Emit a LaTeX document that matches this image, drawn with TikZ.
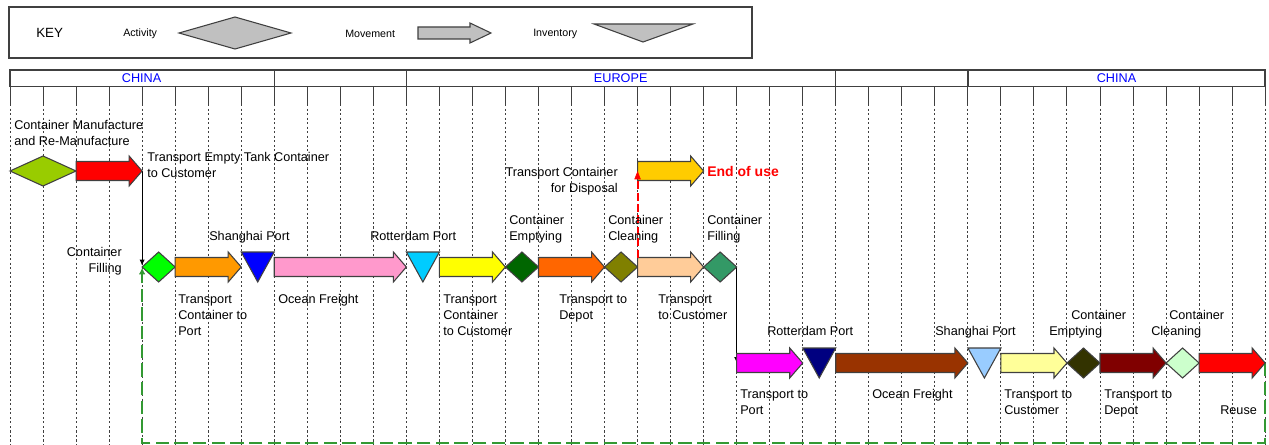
\documentclass[tikz,border=0pt]{standalone}
\usepackage{fontspec}
\setmainfont{Liberation Sans}
\usetikzlibrary{arrows.meta}
\definecolor{lnc}{HTML}{404040}
\definecolor{keyfill}{HTML}{C0C0C0}
\definecolor{cLime}{HTML}{99CC00}
\definecolor{cRed}{HTML}{FF0000}
\definecolor{cGreen}{HTML}{00FF00}
\definecolor{cOrange}{HTML}{FF9900}
\definecolor{cBlue}{HTML}{0000FF}
\definecolor{cPink}{HTML}{FF99CC}
\definecolor{cCyan}{HTML}{00CCFF}
\definecolor{cYellow}{HTML}{FFFF00}
\definecolor{cDkGreen}{HTML}{006600}
\definecolor{cOrRed}{HTML}{FF6600}
\definecolor{cOlive}{HTML}{808000}
\definecolor{cPeach}{HTML}{FFCC99}
\definecolor{cSea}{HTML}{339966}
\definecolor{cGold}{HTML}{FFCC00}
\definecolor{cMagenta}{HTML}{FF00FF}
\definecolor{cNavy}{HTML}{000080}
\definecolor{cBrown}{HTML}{993300}
\definecolor{cLtBlue}{HTML}{99CCFF}
\definecolor{cLtYellow}{HTML}{FFFF99}
\definecolor{cDkOlive}{HTML}{333300}
\definecolor{cMaroon}{HTML}{800000}
\definecolor{cLtGreen}{HTML}{CCFFCC}
\definecolor{cDash}{HTML}{339933}
\def\cw{33.03}
\newcommand{\mvarrow}[4]{%
  \filldraw[shapeline,fill=#4] ({10+#1*\cw},{#3-9.5}) -- ({10+#2*\cw-13},{#3-9.5}) -- ({10+#2*\cw-13},{#3-15}) -- ({10+#2*\cw},#3) -- ({10+#2*\cw-13},{#3+15}) -- ({10+#2*\cw-13},{#3+9.5}) -- ({10+#1*\cw},{#3+9.5}) -- cycle;}
\newcommand{\actdiamond}[4]{%
  \filldraw[shapeline,fill=#4] ({10+#1*\cw},#3) -- ({10+(#1+#2)/2*\cw},{#3-15}) -- ({10+#2*\cw},#3) -- ({10+(#1+#2)/2*\cw},{#3+15}) -- cycle;}
\newcommand{\invtri}[3]{%
  \filldraw[shapeline,fill=#3] ({10+#1*\cw},{#2-15}) -- ({10+(#1+1)*\cw},{#2-15}) -- ({10+(#1+0.5)*\cw},{#2+15}) -- cycle;}
\begin{document}
\begin{tikzpicture}[x=0.75pt,y=-0.75pt,
  shapeline/.style={draw=lnc,line width=0.8pt,line join=miter},
  frame/.style={draw=lnc,line width=1.1pt},
  tick/.style={draw=lnc,line width=0.75pt},
  dotline/.style={draw=lnc,line width=0.75pt,dash pattern=on 1.6pt off 1.8pt},
  lbl/.style={font=\fontsize{9.5}{12}\selectfont,inner sep=0pt},
  keytxt/.style={font=\fontsize{8}{9.6}\selectfont,inner sep=0pt},
  hdr/.style={font=\fontsize{9.5}{12}\selectfont,text=cBlue,inner sep=0pt},
  conn/.style={draw=black,line width=0.8pt,-{Latex[length=4.5pt,width=4pt]}},
  reddash/.style={draw=cRed,line width=1.5pt,dash pattern=on 6pt off 2.5pt},
  redtip/.style={draw=cRed,fill=cRed,line width=0.5pt},
  greendash/.style={draw=cDash,line width=1.5pt,dash pattern=on 10pt off 4pt,-{Latex[length=5pt,width=5pt]}}]
\useasboundingbox (0,0) rectangle (1269,445);
\fill[white] (0,0) rectangle (1269,445);
% key
\draw[frame] (9,7) rectangle (752,58);
\node[font=\fontsize{10}{12}\selectfont,inner sep=0pt,anchor=west] (key) at (36,33) {KEY};
\node[keytxt,anchor=west] (kact) at (123,34) {Activity};
\filldraw[shapeline,fill=keyfill] (179,33) -- (235,17) -- (291,33) -- (235,49) -- cycle;
\node[keytxt,anchor=west] (kmov) at (345,34) {Movement};
\filldraw[shapeline,fill=keyfill] (418,27) -- (470,27) -- (470,23) -- (491,33) -- (470,43) -- (470,39) -- (418,39) -- cycle;
\node[keytxt,anchor=west] (kinv) at (533,34) {Inventory};
\filldraw[shapeline,fill=keyfill] (594,24) -- (693,24) -- (643,42) -- cycle;
% header
\draw[frame] (10,70) rectangle (1265,86.5);
\foreach \k in {8,12,25,29} \draw[frame] ({10+\k*\cw},70) -- ({10+\k*\cw},86.5);
\node[hdr] (h1) at (141.6,78) {CHINA};
\node[hdr] (h2) at (620.7,78) {EUROPE};
\node[hdr] (h3) at (1116.5,78) {CHINA};
\foreach \k in {0,...,38} {
  \draw[tick] ({10+\k*\cw},86.5) -- ({10+\k*\cw},104);
  \draw[dotline] ({10+\k*\cw},104) -- ({10+\k*\cw},445);
}
% connectors (behind shapes)
\coordinate (r1end) at ({10+4*\cw},171);
\coordinate (gdleft) at ({10+4*\cw},267);
\coordinate (sgright) at ({10+22*\cw},267);
\coordinate (magleft) at ({10+22*\cw},363);
\coordinate (peachtop) at ({10+19*\cw},257.5);
\coordinate (goldleft) at ({10+19*\cw},172);
\coordinate (reuseend) at ({10+38*\cw},363);
\draw[greendash,shorten >=0.5pt] (reuseend) -- ++(0,80) -| (gdleft);
\draw[conn,shorten >=1pt] (r1end) -- (gdleft);
\draw[conn] (sgright) -- (magleft);
% row 1
\actdiamond{0}{2}{171}{cLime}
\mvarrow{2}{4}{171}{cRed}
\mvarrow{19}{21}{171}{cGold}
% row 2
\actdiamond{4}{5}{267}{cGreen}
\mvarrow{5}{7}{267}{cOrange}
\invtri{7}{267}{cBlue}
\mvarrow{8}{12}{267}{cPink}
\invtri{12}{267}{cCyan}
\mvarrow{13}{15}{267}{cYellow}
\actdiamond{15}{16}{267}{cDkGreen}
\mvarrow{16}{18}{267}{cOrRed}
\actdiamond{18}{19}{267}{cOlive}
\mvarrow{19}{21}{267}{cPeach}
\actdiamond{21}{22}{267}{cSea}
% row 3
\mvarrow{22}{24}{363}{cMagenta}
\invtri{24}{363}{cNavy}
\mvarrow{25}{29}{363}{cBrown}
\invtri{29}{363}{cLtBlue}
\mvarrow{30}{32}{363}{cLtYellow}
\actdiamond{32}{33}{363}{cDkOlive}
\mvarrow{33}{35}{363}{cMaroon}
\actdiamond{35}{36}{363}{cLtGreen}
\mvarrow{36}{38}{363}{cRed}
% red dashed connector: peach arrow -> gold arrow
\draw[reddash] (peachtop) -- ([yshift=-5pt]goldleft);
\filldraw[redtip] (goldleft) -- ++(-2.8,7) -- ++(5.6,0) -- cycle;
% labels (base anchor = baseline of last line)
\node[lbl,anchor=base west,align=left] (t1) at (14,145.5) {Container Manufacture\\and Re-Manufacture};
\node[lbl,anchor=base west,align=left] (t2) at (147,177.5) {Transport Empty Tank Container\\to Customer};
\node[lbl,anchor=base east,align=right] (t3) at (122,272.5) {Container\\Filling};
\node[lbl,anchor=base west] (t4) at (209,240.5) {Shanghai Port};
\node[lbl,anchor=base west] (t5) at (370,240.5) {Rotterdam Port};
\node[lbl,anchor=base west,align=left] (t6) at (509,240.5) {Container\\Emptying};
\node[lbl,anchor=base west,align=left] (t7) at (608,240.5) {Container\\Cleaning};
\node[lbl,anchor=base west,align=left] (t8) at (707,240.5) {Container\\Filling};
\node[lbl,anchor=base east,align=right] (t9) at (618,192.5) {Transport Container\\for Disposal};
\node[lbl,anchor=west,font=\fontsize{10.5}{12}\selectfont\bfseries,text=cRed] (t10) at (707,171) {End of use};
\node[lbl,anchor=base west,align=left] (t11) at (178,335.5) {Transport\\Container to\\Port};
\node[lbl,anchor=base west] (t12) at (278,303.5) {Ocean Freight};
\node[lbl,anchor=base west,align=left] (t13) at (443,335.5) {Transport\\Container\\to Customer};
\node[lbl,anchor=base west,align=left] (t14) at (559,319.5) {Transport to\\Depot};
\node[lbl,anchor=base west,align=left] (t15) at (658,319.5) {Transport\\to Customer};
\node[lbl,anchor=base west] (t16) at (767,335.5) {Rotterdam Port};
\node[lbl,anchor=base west] (t17) at (935,335.5) {Shanghai Port};
\node[lbl,anchor=base west,align=left] (t18) at (1049,335.5) {\hspace*{16.5pt}Container\\Emptying};
\node[lbl,anchor=base west,align=left] (t19) at (1151,335.5) {\hspace*{13.5pt}Container\\Cleaning};
\node[lbl,anchor=base west,align=left] (t20) at (740,414.5) {Transport to\\Port};
\node[lbl,anchor=base west] (t21) at (872,398.5) {Ocean Freight};
\node[lbl,anchor=base west,align=left] (t22) at (1004,414.5) {Transport to\\Customer};
\node[lbl,anchor=base west,align=left] (t23) at (1104,414.5) {Transport to\\Depot};
\node[lbl,anchor=base west] (t24) at (1220,414.5) {Reuse};
\end{tikzpicture}
\end{document}
